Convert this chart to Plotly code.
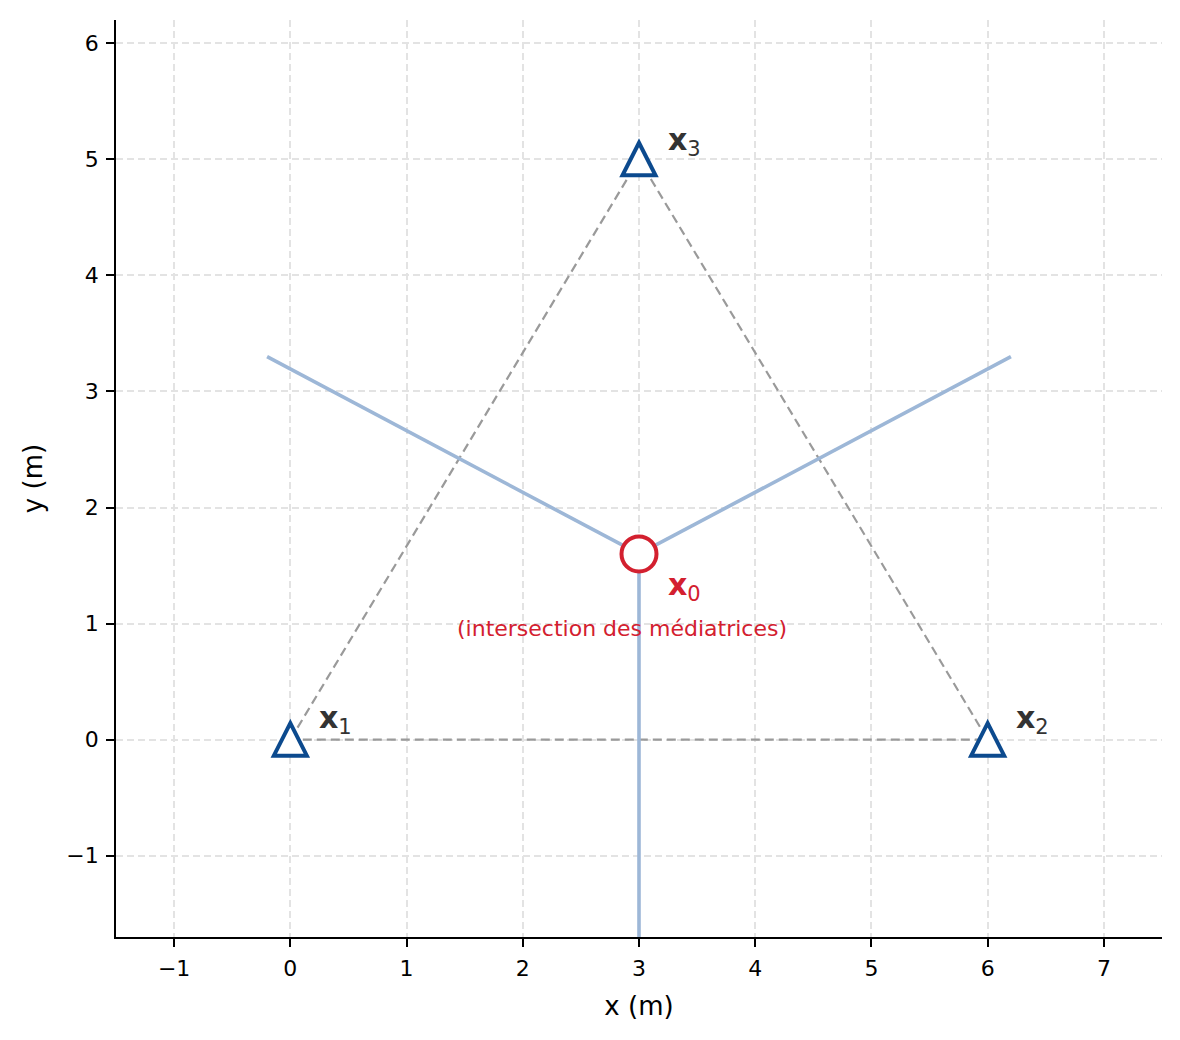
import plotly.graph_objects as go

# stations (triangle vertices) and circumcenter
stations_x = [0, 6, 3]
stations_y = [0, 0, 5]
station_labels = ["1", "2", "3"]
center_x = [3]
center_y = [1.6]

# perpendicular bisector segments
bis_left_x = [-0.2, 3]
bis_left_y = [3.3, 1.6]
bis_right_x = [3, 6.2]
bis_right_y = [1.6, 3.3]
bis_down_x = [3, 3]
bis_down_y = [1.6, -1.7]

# triangle edges
edge_x = [0, 3, 6, 0]
edge_y = [0, 5, 0, 0]

x_ticks = [-1, 0, 1, 2, 3, 4, 5, 6, 7]
y_ticks = [-1, 0, 1, 2, 3, 4, 5, 6]

BLUE = "#0c4a8e"
RED = "#d3202f"
LIGHT = "#9db7d7"
FONT = "DejaVu Sans"

fig = go.Figure()

fig.add_trace(go.Scatter(x=edge_x, y=edge_y, mode="lines",
                         line=dict(color="#9a9a9a", width=2.2, dash="9px,5px"),
                         hoverinfo="skip"))

for bx, by in [(bis_left_x, bis_left_y), (bis_right_x, bis_right_y), (bis_down_x, bis_down_y)]:
    fig.add_trace(go.Scatter(x=bx, y=by, mode="lines",
                             line=dict(color=LIGHT, width=3.6)))

fig.add_trace(go.Scatter(x=center_x, y=center_y, mode="markers",
                         marker=dict(symbol="circle", size=35, color="white",
                                     line=dict(color=RED, width=4))))

# matplotlib-like '^' markers (as tall as wide), drawn as pixel-sized shapes
shapes = []
for sx, sy in zip(stations_x, stations_y):
    shapes.append(dict(type="path", xref="x", yref="y",
                       xsizemode="pixel", ysizemode="pixel",
                       xanchor=sx, yanchor=sy,
                       path="M -16.5 -16 L 16.5 -16 L 0 16.5 Z",
                       fillcolor="white", line=dict(color=BLUE, width=4),
                       layer="above"))

annotations = []
label_offsets = [(0.23, 0.17), (0.23, 0.17), (0.23, 0.15)]
for sx, sy, lab, (dx, dy) in zip(stations_x, stations_y, station_labels, label_offsets):
    annotations.append(dict(x=sx + dx, y=sy + dy, xanchor="left", yanchor="middle",
                            text="<b>x</b><sub>" + lab + "</sub>", showarrow=False,
                            font=dict(family=FONT, size=30, color="#333333")))

annotations.append(dict(x=center_x[0] + 0.23, y=center_y[0] - 0.28, xanchor="left",
                        yanchor="middle", text="<b>x</b><sub>0</sub>", showarrow=False,
                        font=dict(family=FONT, size=30, color=RED)))
annotations.append(dict(x=2.85, y=0.96, xanchor="center", yanchor="middle",
                        text="(intersection des médiatrices)", showarrow=False,
                        font=dict(family=FONT, size=22, color=RED)))

axis_common = dict(
    showline=True,
    linecolor="black",
    linewidth=1.8,
    ticks="outside",
    ticklen=8,
    tickwidth=1.8,
    tickcolor="black",
    ticklabelstandoff=3,
    showgrid=True,
    gridcolor="#e3e3e3",
    gridwidth=1.5,
    griddash="7px,4px",
    zeroline=False,
    tickfont=dict(family=FONT, size=22, color="black"),
    mirror=False,
)

fig.update_layout(
    width=1172,
    height=1032,
    showlegend=False,
    plot_bgcolor="white",
    paper_bgcolor="white",
    margin=dict(l=108, r=18, t=12, b=103),
    annotations=annotations,
    shapes=shapes,
    xaxis=dict(axis_common, range=[-1.5, 7.5], tickvals=x_ticks,
               ticktext=[str(v).replace("-", "\u2212") for v in x_ticks],
               title=dict(text="x (m)", font=dict(family=FONT, size=26, color="black"),
                          standoff=17)),
    yaxis=dict(axis_common, range=[-1.7, 6.2], tickvals=y_ticks,
               ticktext=[str(v).replace("-", "\u2212") for v in y_ticks],
               title=dict(text="y (m)", font=dict(family=FONT, size=26, color="black"),
                          standoff=16)),
)

fig.write_html("out.html")
